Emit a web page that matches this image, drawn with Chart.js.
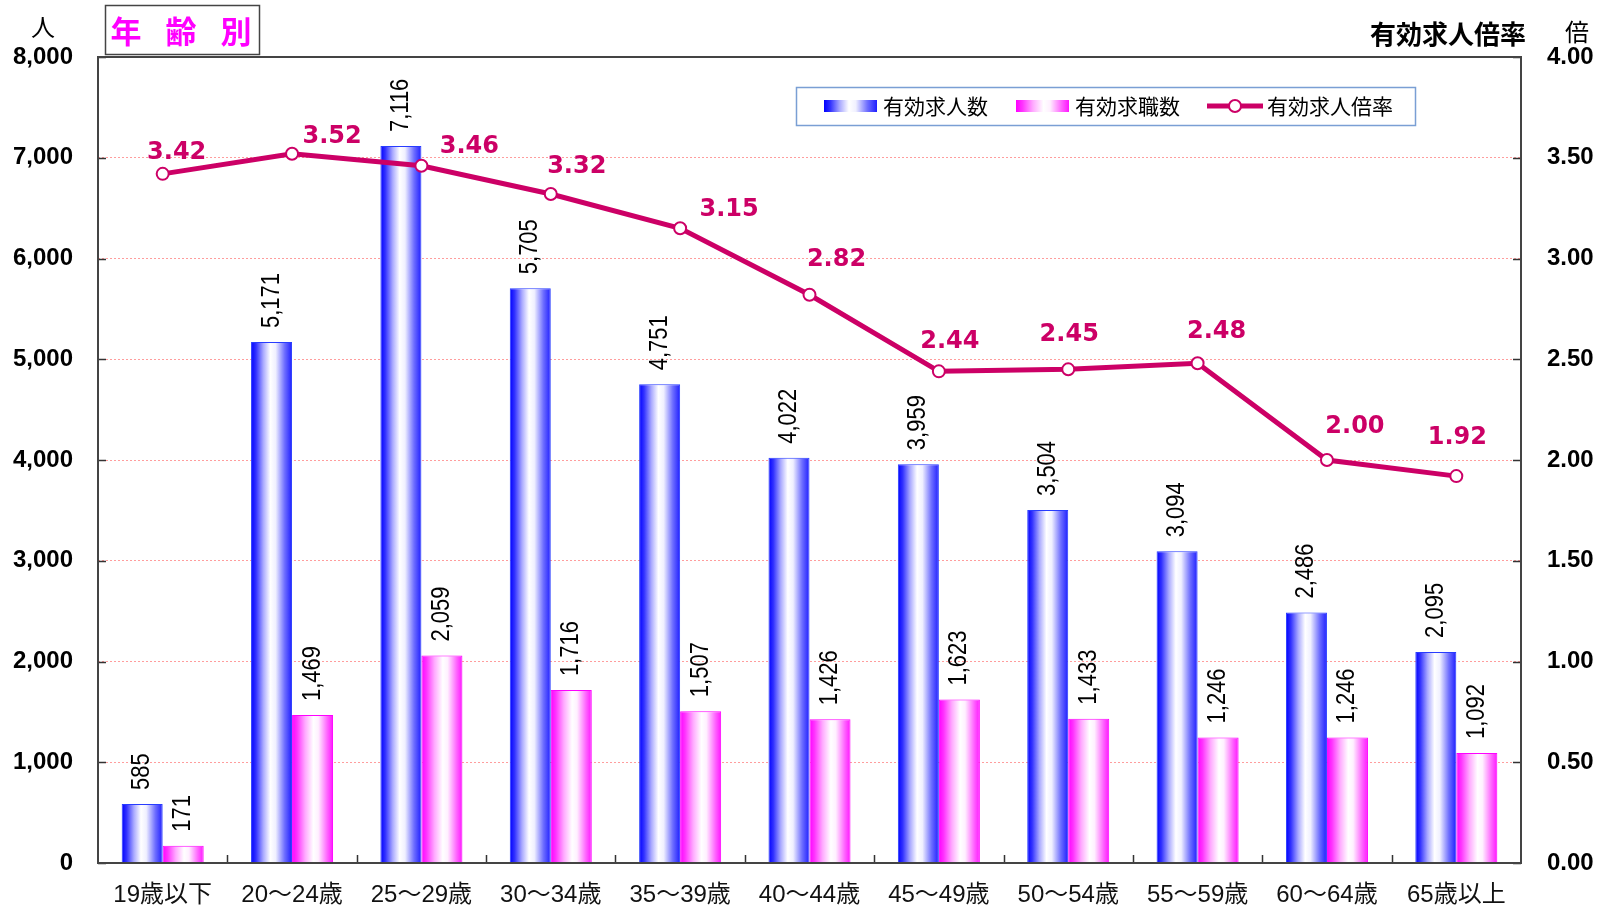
<!DOCTYPE html>
<html><head><meta charset="utf-8">
<script src="https://cdn.jsdelivr.net/npm/chart.js@4.4.1/dist/chart.umd.min.js"></script>
<style>html,body{margin:0;padding:0;background:#fff;}#wrap{width:1613px;height:914px;}</style>
</head><body><div id="wrap"><canvas id="c" width="1613" height="914"></canvas></div>
<script>
const categories = ['19歳以下','20～24歳','25～29歳','30～34歳','35～39歳','40～44歳','45～49歳','50～54歳','55～59歳','60～64歳','65歳以上'];
const jobOffers  = [585,5171,7116,5705,4751,4022,3959,3504,3094,2486,2095];
const jobSeekers = [171,1469,2059,1716,1507,1426,1623,1433,1246,1246,1092];
const ratio      = [3.42,3.52,3.46,3.32,3.15,2.82,2.44,2.45,2.48,2.00,1.92];
const leftTicks  = [0,1000,2000,3000,4000,5000,6000,7000,8000];
const rightTicks = [0,0.5,1.0,1.5,2.0,2.5,3.0,3.5,4.0];
const seriesNames = ['有効求人数','有効求職数','有効求人倍率'];
// label placement offsets (px) for ratio labels
const lineLabelDx = [14,40,48,26,49,27,11,1,19,28,1];
const lineLabelDy = [-21,-17,-19,-27,-19,-35,-30,-35,-32,-33,-38];

const LINE = '#CC0066';
const NUMF = '"Liberation Sans", Arial, sans-serif';
const JPF = '"Liberation Sans", "Noto Sans CJK JP", sans-serif';

function blueGrad(ctx,x0,x1){
  const g=ctx.createLinearGradient(x0,0,x1,0);
  g.addColorStop(0,'rgb(0,0,255)');
  g.addColorStop(0.12,'rgb(50,50,255)');
  g.addColorStop(0.3,'rgb(170,170,255)');
  g.addColorStop(0.47,'rgb(255,255,255)');
  g.addColorStop(0.6,'rgb(240,240,255)');
  g.addColorStop(0.82,'rgb(110,110,255)');
  g.addColorStop(1,'rgb(30,30,255)');
  return g;
}
function pinkGrad(ctx,x0,x1){
  const g=ctx.createLinearGradient(x0,0,x1,0);
  g.addColorStop(0,'rgb(255,0,255)');
  g.addColorStop(0.12,'rgb(255,50,255)');
  g.addColorStop(0.32,'rgb(255,170,255)');
  g.addColorStop(0.52,'rgb(255,255,255)');
  g.addColorStop(0.64,'rgb(255,240,255)');
  g.addColorStop(0.86,'rgb(255,100,255)');
  g.addColorStop(1,'rgb(255,20,255)');
  return g;
}

const decor = {
  id:'decor',
  beforeDatasetsDraw(chart){
    const ctx=chart.ctx;
    [0,1].forEach(di=>{
      chart.getDatasetMeta(di).data.forEach(b=>{
        const x0=b.x-b.width/2, x1=b.x+b.width/2;
        b.options = Object.assign({}, b.options, {backgroundColor: di===0?blueGrad(ctx,x0,x1):pinkGrad(ctx,x0,x1)});
      });
    });
  },
  afterDatasetsDraw(chart){
    const ctx=chart.ctx, a=chart.chartArea;
    const ys=chart.scales.y, y1=chart.scales.y1;
    ctx.save();
    ctx.strokeStyle='#333'; ctx.lineWidth=1.5;
    ctx.beginPath();
    leftTicks.forEach(v=>{const p=Math.round(ys.getPixelForValue(v))+0.5; ctx.moveTo(a.left,p); ctx.lineTo(a.left+8,p);});
    rightTicks.forEach(v=>{const p=Math.round(y1.getPixelForValue(v))+0.5; ctx.moveTo(a.right,p); ctx.lineTo(a.right-8,p);});
    const cw=(a.right-a.left)/categories.length;
    for(let i=1;i<categories.length;i++){const p=Math.round(a.left+i*cw)+0.5; ctx.moveTo(p,a.bottom); ctx.lineTo(p,a.bottom-8);}
    ctx.stroke();
    ctx.strokeStyle='#444'; ctx.lineWidth=2;
    ctx.strokeRect(a.left,a.top,a.right-a.left,a.bottom-a.top);
    ctx.fillStyle='#000';
    ctx.font='22px '+NUMF;
    ctx.textAlign='left'; ctx.textBaseline='middle';
    [0,1].forEach(di=>{
      const ds=chart.data.datasets[di];
      chart.getDatasetMeta(di).data.forEach((b,i)=>{
        ctx.save();
        ctx.translate(b.x, b.y-14);
        ctx.rotate(-Math.PI/2);
        ctx.scale(1,1.15);
        ctx.fillText(ds.data[i].toLocaleString('en-US'),0,0);
        ctx.restore();
      });
    });
    ctx.fillStyle=LINE;
    ctx.font='bold 24px "DejaVu Sans", sans-serif';
    ctx.textAlign='center'; ctx.textBaseline='middle';
    chart.getDatasetMeta(2).data.forEach((p,i)=>{
      ctx.fillText(ratio[i].toFixed(2), p.x+lineLabelDx[i], p.y+lineLabelDy[i]);
    });
    ctx.restore();
  },
  afterDraw(chart){
    const ctx=chart.ctx;
    ctx.save();
    ctx.fillStyle='#fff'; ctx.fillRect(105,5,155,50);
    ctx.strokeStyle='#444'; ctx.lineWidth=1.5; ctx.strokeRect(105.5,5.5,154,49);
    ctx.fillStyle='#FF00FF'; ctx.font='bold 31px "Noto Sans CJK JP", sans-serif';
    ctx.textAlign='center'; ctx.textBaseline='middle';
    ['年','齢','別'].forEach((c,i)=>ctx.fillText(c,126+i*55,31));
    ctx.fillStyle='#000'; ctx.font='24px "Noto Sans CJK JP", sans-serif';
    ctx.fillText('人',43,27);
    ctx.fillText('倍',1577,32);
    ctx.font='bold 26px "Noto Sans CJK JP", sans-serif';
    ctx.textAlign='right';
    ctx.fillText('有効求人倍率',1526,34);
    const L={x:796,y:87,w:619,h:38};
    ctx.fillStyle='#fff'; ctx.fillRect(L.x,L.y,L.w,L.h);
    ctx.strokeStyle='#7a9fd4'; ctx.lineWidth=1.5; ctx.strokeRect(L.x+0.5,L.y+0.5,L.w,L.h);
    const cy=106;
    ctx.fillStyle=blueGrad(ctx,824,877); ctx.fillRect(824,cy-6,53,12);
    ctx.fillStyle=pinkGrad(ctx,1016,1069); ctx.fillRect(1016,cy-6,53,12);
    ctx.strokeStyle=LINE; ctx.lineWidth=5; ctx.beginPath(); ctx.moveTo(1207,cy); ctx.lineTo(1263,cy); ctx.stroke();
    ctx.beginPath(); ctx.arc(1235,cy,6,0,Math.PI*2); ctx.fillStyle='#fff'; ctx.fill(); ctx.lineWidth=2; ctx.stroke();
    ctx.fillStyle='#000'; ctx.font='21px "Noto Sans CJK JP", sans-serif'; ctx.textAlign='left';
    ctx.fillText(seriesNames[0],883,cy);
    ctx.fillText(seriesNames[1],1075,cy);
    ctx.fillText(seriesNames[2],1267,cy);
    ctx.restore();
  }
};

new Chart(document.getElementById('c'),{
  data:{
    labels:categories,
    datasets:[
      {type:'bar',label:seriesNames[0],data:jobOffers,yAxisID:'y',order:1,borderColor:'rgb(40,60,255)',borderWidth:1,backgroundColor:'#66f',categoryPercentage:0.634,barPercentage:1.0},
      {type:'bar',label:seriesNames[1],data:jobSeekers,yAxisID:'y',order:1,borderColor:'rgb(255,0,255)',borderWidth:1,backgroundColor:'#f6f',categoryPercentage:0.634,barPercentage:1.0},
      {type:'line',label:seriesNames[2],data:ratio,yAxisID:'y1',order:0,borderColor:LINE,borderWidth:5,tension:0,pointRadius:6,pointBorderWidth:2,pointBackgroundColor:'#fff',pointBorderColor:LINE}
    ]
  },
  options:{
    responsive:false, animation:false, devicePixelRatio:1,
    layout:{padding:{top:57,left:0,right:0,bottom:0}},
    plugins:{legend:{display:false},tooltip:{enabled:false}},
    scales:{
      x:{
        grid:{display:false,drawTicks:false}, border:{display:false},
        ticks:{padding:18,color:'#111',font:{family:JPF,size:24},maxRotation:0,autoSkip:false},
        afterFit(s){s.height=51;}
      },
      y:{
        position:'left',min:0,max:8000,
        afterBuildTicks(s){s.ticks=leftTicks.map(v=>({value:v}));},
        grid:{color:(c)=> (c.tick && (c.tick.value===0||c.tick.value===8000))?'rgba(0,0,0,0)':'rgba(255,140,140,0.85)',lineWidth:1,drawTicks:false},
        border:{display:false,dash:[2,2]},
        ticks:{padding:25,color:'#000',font:{family:NUMF,size:24,weight:'bold'},callback:(v)=>Number(v).toLocaleString('en-US')},
        afterFit(s){s.width=98;}
      },
      y1:{
        position:'right',min:0,max:4,
        afterBuildTicks(s){s.ticks=rightTicks.map(v=>({value:v}));},
        grid:{display:false,drawTicks:false},border:{display:false},
        ticks:{padding:26,color:'#000',font:{family:NUMF,size:24,weight:'bold'},callback:(v)=>Number(v).toFixed(2)},
        afterFit(s){s.width=92;}
      }
    }
  },
  plugins:[decor]
});
</script>
</body></html>
